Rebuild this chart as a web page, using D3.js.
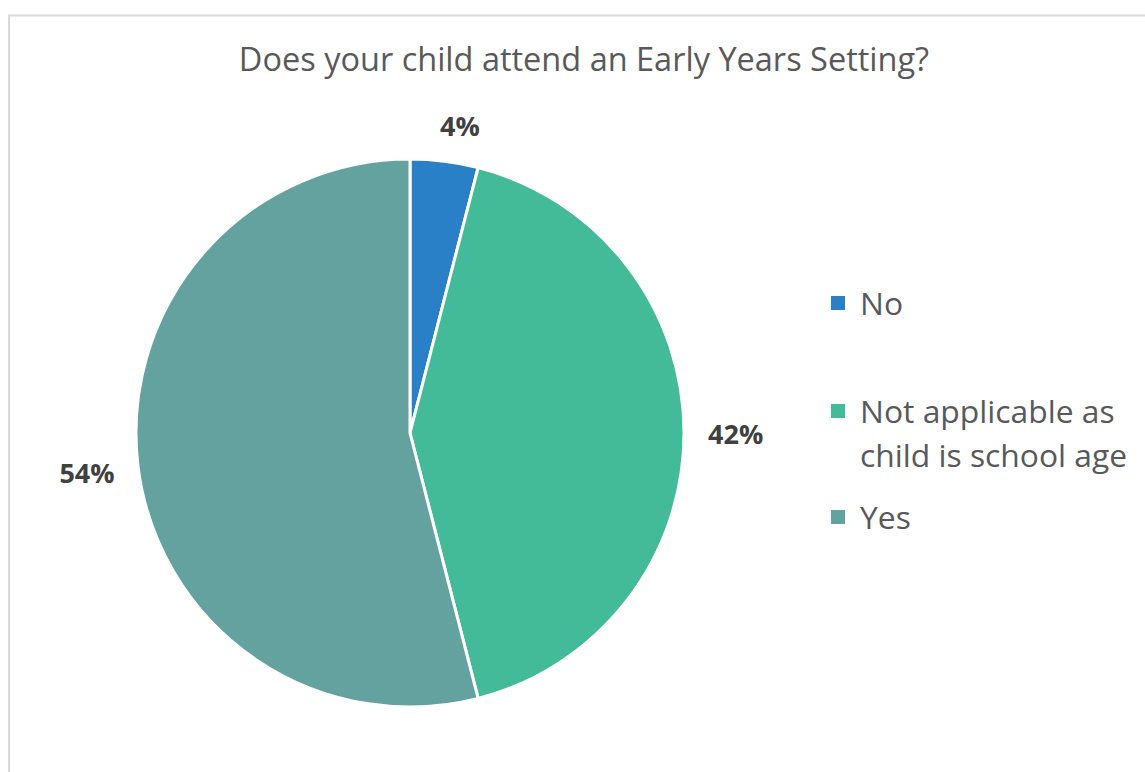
<!DOCTYPE html>
<html>
<head>
<meta charset="utf-8">
<script src="https://cdn.jsdelivr.net/npm/d3@7"></script>
<style>
  html, body { margin: 0; padding: 0; background: #fff; }
  svg { display: block; }
</style>
</head>
<body>
<svg id="chart" width="1145" height="772"></svg>
<script>
// Survey answers and their shares (percent)
const categories = ["No", "Not applicable as child is school age", "Yes"];
const legendLines = [["No"], ["Not applicable as", "child is school age"], ["Yes"]];
const values = [4, 42, 54];
const colors = ["#2a80c6", "#43ba98", "#64a29f"];
const title = "Does your child attend an Early Years Setting?";

const svg = d3.select("#chart");
const font = "'Open Sans', 'Noto Sans', sans-serif";

// Chart frame
svg.append("rect")
  .attr("x", 9).attr("y", 15.5)
  .attr("width", 1200).attr("height", 800)
  .attr("fill", "#fff")
  .attr("stroke", "#d9d9d9").attr("stroke-width", 2);

// Title
svg.append("text")
  .attr("x", 584).attr("y", 71)
  .attr("text-anchor", "middle")
  .attr("font-family", font).attr("font-size", 32.5)
  .attr("fill", "#595959")
  .text(title);

// Pie
const cx = 410, cy = 433, r = 274;
const pie = d3.pie().sort(null).value(d => d);
const arcs = pie(values);
const arc = d3.arc().innerRadius(0).outerRadius(r);

const g = svg.append("g").attr("transform", `translate(${cx},${cy})`);
g.selectAll("path.slice")
  .data(arcs)
  .join("path")
  .attr("class", "slice")
  .attr("d", arc)
  .attr("fill", (d, i) => colors[i])
  .attr("stroke", "#fff")
  .attr("stroke-width", 3)
  .attr("stroke-linejoin", "round");

// Outside-end data labels
const pad = 24, labelSize = 27;
g.selectAll("text.lbl")
  .data(arcs)
  .join("text")
  .attr("class", "lbl")
  .attr("font-family", font).attr("font-size", labelSize).attr("font-weight", "bold")
  .attr("fill", "#404040")
  .attr("text-anchor", "middle")
  .attr("dominant-baseline", "central")
  .text(d => d.data + "%")
  .each(function(d) {
    const a = (d.startAngle + d.endAngle) / 2;
    const w = this.getComputedTextLength(), h = labelSize;
    const s = Math.sin(a), c = -Math.cos(a);
    d3.select(this)
      .attr("x", (r + pad) * s + s * w / 2 + (Math.abs(s) < 0.3 ? 10 : 0))
      .attr("y", (r + pad) * c + c * h / 2 + (Math.abs(s) < 0.3 ? 2 : 0));
  });

// Legend
const legendY = [303, 411, 517];
const lg = svg.append("g");
categories.forEach((cat, i) => {
  const item = lg.append("g").attr("transform", `translate(831,${legendY[i]})`);
  item.append("rect")
    .attr("x", 0).attr("y", -7).attr("width", 14).attr("height", 14)
    .attr("fill", colors[i]);
  const t = item.append("text")
    .attr("x", 29).attr("y", -1)
    .attr("dominant-baseline", "central")
    .attr("font-family", font).attr("font-size", 31.8)
    .attr("fill", "#595959");
  legendLines[i].forEach((line, j) => {
    t.append("tspan").attr("x", 29).attr("dy", j === 0 ? 0 : 44).text(line);
  });
});
</script>
</body>
</html>
